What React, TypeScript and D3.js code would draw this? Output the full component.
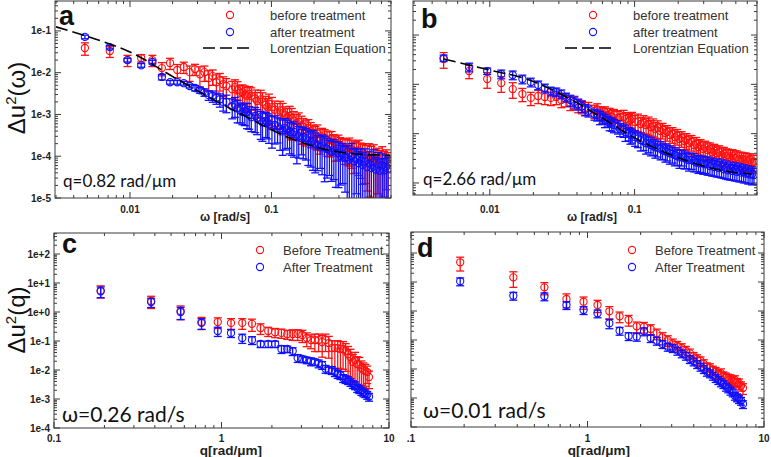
import React from "react";
import * as d3 from "d3";

// ---------- data ----------
// panels a, b : frequency grid (rad/s)
const omegaAB = [
  0.0048, 0.0072, 0.0096, 0.012, 0.0144, 0.0168, 0.0192, 0.0216, 0.024, 0.0264, 0.0288, 0.0312, 0.0336, 0.036, 0.0384, 0.0408, 0.0432, 0.0456, 0.048,
  0.0528, 0.0552, 0.0576, 0.06, 0.0624, 0.0648, 0.0672, 0.0696, 0.072,
  0.0768, 0.0792, 0.084, 0.0864, 0.0912, 0.0936, 0.096,
  0.1008, 0.1056, 0.1104, 0.1152, 0.12, 0.1248, 0.1296, 0.1344, 0.1392, 0.144,
  0.1512, 0.156, 0.1632, 0.168, 0.1752, 0.1824, 0.1896, 0.1968, 0.204, 0.2112,
  0.2208, 0.228, 0.2376, 0.2472, 0.2568, 0.2664, 0.276, 0.2856, 0.2976, 0.3072,
  0.3192, 0.3312, 0.3432, 0.3552, 0.3696, 0.384, 0.3984, 0.4128, 0.4272, 0.4416,
  0.4584, 0.4752, 0.492, 0.5088, 0.528, 0.5472, 0.5664, 0.5856, 0.6072, 0.6264, 0.648, 0.6672,
];

const beforeA = [
  0.039, 0.033, 0.020, 0.0225, 0.020, 0.0129, 0.017, 0.0116, 0.0137, 0.0103, 0.0122, 0.0092, 0.0103, 0.0074, 0.0083, 0.0059, 0.0066, 0.0053, 0.0048,
  0.0040, 0.0045, 0.0038, 0.0033, 0.0034, 0.0030, 0.0028, 0.0031, 0.0028,
  0.0024, 0.0021, 0.0023, 0.0020, 0.0017, 0.0015, 0.0018,
  0.0015, 0.0013, 0.00114, 0.00125, 0.00108, 0.00095, 0.00086, 0.00092, 0.00082, 0.00071,
  0.00062, 0.00066, 0.00055, 0.00050, 0.00044, 0.00047, 0.00040, 0.00036, 0.00033, 0.00035,
  0.00028, 0.00030, 0.00028, 0.00025, 0.00024, 0.00026, 0.00022, 0.00019, 0.00020, 0.00018,
  0.00017, 0.00016, 0.000155, 0.000165, 0.000147, 0.000128, 0.000131, 0.000138, 0.000118, 0.000106,
  0.000111, 0.000098, 0.000105, 0.000088, 0.000094, 0.000078, 0.000084, 0.000072, 0.000089, 0.000070, 0.000079, 0.000066,
];
const beforeAErr = [
  0.33, 0.3, 0.3, 0.2, 0.3, 0.35, 0.3, 0.35, 0.3, 0.4, 0.3, 0.5, 0.4, 0.5, 0.4, 0.5, 0.45, 0.5, 0.5,
  0.55, 0.5, 0.6, 0.5, 0.5, 0.6, 0.6, 0.5, 0.55,
  0.6, 0.6, 0.65, 0.65, 0.6, 0.6, 0.7,
  0.7, 0.6, 0.6, 0.65, 0.7, 0.6, 0.6, 0.7, 0.7, 0.65,
  0.6, 0.65, 0.65, 0.6, 0.6, 0.6, 0.6, 0.55, 0.55, 0.6,
  0.6, 0.55, 0.55, 0.6, 0.6, 0.5, 0.5, 0.6, 0.6, 0.55,
  0.55, 0.6, 0.6, 0.65, 0.65, 0.7, 0.7, 0.75, 0.75, 0.8,
  0.8, 0.85, 0.9, 0.95, 1.0, 0.9, 0.85, 0.9, 0.9, 0.85, 0.8, 0.85,
];
const afterA = [
  0.072, 0.041, 0.020, 0.015, 0.018, 0.0079, 0.0059, 0.0059, 0.0056, 0.0048, 0.0043, 0.0038, 0.0034, 0.0029, 0.0028, 0.0025, 0.0023, 0.0020, 0.0020,
  0.00157, 0.0017, 0.0014, 0.00125, 0.00114, 0.0012, 0.00114, 0.00098, 0.00086,
  0.00092, 0.00082, 0.00072, 0.00065, 0.00070, 0.00065, 0.00058,
  0.00052, 0.00056, 0.00052, 0.00046, 0.00042, 0.00047, 0.00044, 0.00038, 0.00035, 0.00038,
  0.00033, 0.00030, 0.00027, 0.00029, 0.00027, 0.00024, 0.00022, 0.00023, 0.00020, 0.00018,
  0.00017, 0.00018, 0.000163, 0.00015, 0.000138, 0.000125, 0.000138, 0.00012, 0.000118, 0.000102,
  0.000111, 0.000092, 0.000094, 0.000082, 0.0001, 0.000076, 0.000084, 0.000068, 0.000079, 0.000062,
  0.000075, 0.000055, 0.000067, 0.000052, 0.000071, 0.000048, 0.000063, 0.000045, 0.00006, 0.000046, 0.000057, 0.00005,
];
const afterAErr = [
  0.1, 0.1, 0.1, 0.1, 0.1, 0.15, 0.1, 0.1, 0.1, 0.1, 0.15, 0.15, 0.2, 0.25, 0.3, 0.3, 0.35, 0.4, 0.45,
  0.5, 0.5, 0.55, 0.5, 0.5, 0.55, 0.6, 0.55, 0.55,
  0.6, 0.6, 0.65, 0.65, 0.6, 0.6, 0.65,
  0.7, 0.65, 0.6, 0.7, 0.75, 0.7, 0.65, 0.7, 0.7, 0.75,
  0.8, 0.7, 0.6, 0.7, 0.7, 0.75, 0.75, 0.8, 0.8, 0.75,
  0.7, 0.8, 0.85, 0.8, 0.75, 0.8, 0.8, 0.85, 0.85, 0.8,
  0.8, 0.85, 0.9, 0.9, 1.0, 0.9, 0.85, 0.9, 0.9, 0.95,
  1.0, 0.95, 0.9, 1.0, 1.0, 0.95, 0.95, 0.9, 0.9, 0.9, 0.85, 0.9,
];
const lorentzOmegaA = [0.003, 0.00625, 0.01, 0.0204, 0.0372, 0.0677, 0.1216, 0.211, 0.36, 0.69];
const lorentzA = [0.125, 0.0575, 0.0313, 0.0078, 0.00246, 0.00085, 0.000316, 0.000163, 0.000117, 0.000105];

const beforeB = [
  0.0326, 0.0186, 0.0128, 0.0106, 0.0080, 0.00636, 0.0053, 0.0058, 0.00553, 0.0053, 0.00553, 0.0048, 0.0050, 0.0042, 0.0044, 0.0038, 0.0036, 0.0033, 0.0033,
  0.0029, 0.0031, 0.0027, 0.0025, 0.0027, 0.0024, 0.0025, 0.0022, 0.00238,
  0.0021, 0.00217, 0.0022, 0.00198, 0.0018, 0.00189, 0.0020,
  0.00172, 0.00178, 0.00157, 0.00165, 0.00149, 0.00155, 0.00136, 0.00142, 0.00124, 0.0013,
  0.00113, 0.0012, 0.00103, 0.00108, 0.00094, 0.00098, 0.00085, 0.0009, 0.00078, 0.00081,
  0.00071, 0.00074, 0.00064, 0.00068, 0.00059, 0.00062, 0.00053, 0.00056, 0.00049, 0.00052,
  0.000465, 0.00048, 0.00042, 0.00045, 0.0004, 0.00042, 0.00037, 0.00039, 0.00035, 0.00036,
  0.00033, 0.00035, 0.00032, 0.00033, 0.0003, 0.00031, 0.00029, 0.0003, 0.00028, 0.00029, 0.00026, 0.00027,
];
const beforeBErr = [
  0.35, 0.3, 0.35, 0.35, 0.35, 0.3, 0.3, 0.3, 0.3, 0.3, 0.3, 0.3, 0.3, 0.3, 0.3, 0.3, 0.3, 0.3, 0.3,
  0.3, 0.3, 0.3, 0.35, 0.3, 0.35, 0.3, 0.35, 0.3,
  0.35, 0.35, 0.35, 0.35, 0.35, 0.35, 0.35,
  0.35, 0.4, 0.35, 0.4, 0.35, 0.4, 0.35, 0.4, 0.35, 0.4,
  0.4, 0.35, 0.4, 0.35, 0.4, 0.35, 0.4, 0.35, 0.4, 0.35,
  0.4, 0.35, 0.4, 0.35, 0.4, 0.35, 0.4, 0.35, 0.4, 0.35,
  0.4, 0.35, 0.4, 0.35, 0.4, 0.35, 0.4, 0.35, 0.4, 0.35,
  0.4, 0.35, 0.4, 0.35, 0.4, 0.35, 0.4, 0.35, 0.4, 0.35, 0.4, 0.35,
];
const afterB = [
  0.0341, 0.0224, 0.0186, 0.0162, 0.0155, 0.0128, 0.0111, 0.0097, 0.0084, 0.0073, 0.0070, 0.0064, 0.0055, 0.0048, 0.0044, 0.0040, 0.0036, 0.0031, 0.0029,
  0.0025, 0.0024, 0.00217, 0.0021, 0.00189, 0.0018, 0.00164, 0.0016, 0.00149,
  0.0014, 0.00124, 0.0012, 0.00107, 0.00102, 0.00094, 0.00092,
  0.00085, 0.0008, 0.00074, 0.0007, 0.00064, 0.00063, 0.00059, 0.00056, 0.00053, 0.00052,
  0.00049, 0.00046, 0.00044, 0.00043, 0.0004, 0.00039, 0.00037, 0.00035, 0.00033, 0.00034,
  0.00032, 0.0003, 0.00029, 0.00029, 0.00028, 0.00026, 0.00026, 0.00025, 0.00025, 0.00024,
  0.00024, 0.00022, 0.00023, 0.00021, 0.00022, 0.0002, 0.00021, 0.00019, 0.0002, 0.00018,
  0.00019, 0.000175, 0.000183, 0.000168, 0.000175, 0.000162, 0.000167, 0.000155, 0.000159, 0.000148, 0.000152, 0.000145,
];
const afterBErr = [
  0.15, 0.2, 0.15, 0.2, 0.2, 0.2, 0.2, 0.2, 0.2, 0.2, 0.2, 0.2, 0.2, 0.25, 0.25, 0.25, 0.25, 0.25, 0.25,
  0.25, 0.25, 0.3, 0.25, 0.3, 0.25, 0.3, 0.3, 0.3,
  0.3, 0.3, 0.3, 0.35, 0.3, 0.35, 0.3,
  0.35, 0.35, 0.4, 0.35, 0.4, 0.35, 0.4, 0.35, 0.4, 0.35,
  0.4, 0.35, 0.4, 0.35, 0.4, 0.35, 0.4, 0.35, 0.4, 0.35,
  0.4, 0.35, 0.4, 0.35, 0.4, 0.35, 0.4, 0.35, 0.4, 0.35,
  0.4, 0.35, 0.4, 0.35, 0.4, 0.35, 0.4, 0.35, 0.4, 0.35,
  0.4, 0.35, 0.4, 0.35, 0.4, 0.35, 0.4, 0.35, 0.4, 0.35, 0.4, 0.35,
];
const lorentzOmegaB = [0.00482, 0.01, 0.018, 0.0318, 0.0556, 0.0953, 0.161, 0.272, 0.466, 0.641];
const lorentzB = [0.0326, 0.0195, 0.0128, 0.00607, 0.00238, 0.00089, 0.00042, 0.00024, 0.000167, 0.000152];

// panels c, d : wave-number grid (rad/um)
const qCD = [0.19, 0.38, 0.57, 0.76, 0.95, 1.14, 1.33, 1.52, 1.71, 1.9, 2.09, 2.28, 2.47, 2.66, 2.85, 3.04, 3.23, 3.42, 3.61, 3.8, 3.99, 4.18, 4.37, 4.56, 4.75, 4.94, 5.13, 5.32, 5.51, 5.7, 5.89, 6.08, 6.27, 6.46, 6.65, 6.84, 7.03, 7.22, 7.41, 7.6];

const beforeC = [5.5, 2.4, 1.08, 0.45, 0.45, 0.42, 0.42, 0.39, 0.28, 0.22, 0.2, 0.19, 0.174, 0.174, 0.174, 0.161, 0.127, 0.108, 0.108, 0.108, 0.092, 0.108, 0.085, 0.057, 0.057, 0.057, 0.053, 0.053, 0.045, 0.035, 0.028, 0.019, 0.022, 0.016, 0.015, 0.0117, 0.01, 0.0092, 0.0085, 0.0057];
const beforeCErr = [0.45, 0.45, 0.5, 0.45, 0.4, 0.4, 0.4, 0.45, 0.4, 0.35, 0.35, 0.35, 0.35, 0.4, 0.4, 0.45, 0.5, 0.5, 0.6, 0.6, 0.7, 0.6, 0.7, 0.8, 0.8, 0.8, 0.8, 0.8, 0.8, 0.85, 0.85, 0.8, 0.85, 0.8, 0.8, 0.75, 0.75, 0.7, 0.6, 0.6];
const afterC = [5.2, 2.2, 1.0, 0.42, 0.221, 0.189, 0.127, 0.108, 0.079, 0.079, 0.079, 0.053, 0.053, 0.045, 0.026, 0.024, 0.022, 0.02, 0.019, 0.017, 0.015, 0.011, 0.01, 0.01, 0.0085, 0.0073, 0.0067, 0.0053, 0.0049, 0.0045, 0.0039, 0.0033, 0.003, 0.0024, 0.0022, 0.0019, 0.0017, 0.0016, 0.0014, 0.0012];
const afterCErr = [0.4, 0.35, 0.45, 0.4, 0.35, 0.3, 0.35, 0.3, 0.25, 0.25, 0.25, 0.3, 0.25, 0.3, 0.3, 0.25, 0.25, 0.3, 0.25, 0.3, 0.3, 0.3, 0.25, 0.3, 0.3, 0.3, 0.3, 0.3, 0.3, 0.3, 0.3, 0.3, 0.3, 0.3, 0.3, 0.3, 0.3, 0.3, 0.3, 0.3];

const beforeD = [47.8, 14.5, 6.56, 2.59, 2.09, 1.61, 0.977, 0.657, 0.501, 0.297, 0.288, 0.24, 0.17, 0.124, 0.1, 0.0769, 0.0636, 0.053, 0.0428, 0.0348, 0.0274, 0.0221, 0.0193, 0.0149, 0.012, 0.0108, 0.00924, 0.00807, 0.00672, 0.0072, 0.00588, 0.00518, 0.0049, 0.00452, 0.00395, 0.00418, 0.00348, 0.00321, 0.00266, 0.00221];
const beforeDErr = [0.5, 0.55, 0.45, 0.5, 0.45, 0.45, 0.45, 0.4, 0.4, 0.4, 0.4, 0.4, 0.4, 0.45, 0.4, 0.4, 0.4, 0.4, 0.4, 0.4, 0.35, 0.4, 0.35, 0.4, 0.35, 0.4, 0.35, 0.4, 0.35, 0.4, 0.35, 0.4, 0.35, 0.4, 0.35, 0.4, 0.35, 0.4, 0.35, 0.4];
const afterD = [10.6, 3.37, 3.22, 1.61, 1.08, 0.833, 0.377, 0.209, 0.137, 0.13, 0.2, 0.117, 0.0946, 0.0728, 0.0587, 0.053, 0.0428, 0.0348, 0.0288, 0.0221, 0.0184, 0.0149, 0.012, 0.01, 0.00807, 0.00711, 0.00588, 0.0049, 0.00418, 0.00348, 0.00304, 0.00246, 0.00216, 0.00179, 0.00157, 0.0012, 0.00106, 0.000924, 0.000807, 0.000621];
const afterDErr = [0.3, 0.3, 0.3, 0.3, 0.3, 0.3, 0.35, 0.3, 0.3, 0.3, 0.3, 0.3, 0.3, 0.3, 0.3, 0.3, 0.3, 0.3, 0.3, 0.3, 0.3, 0.3, 0.3, 0.3, 0.3, 0.3, 0.3, 0.3, 0.3, 0.3, 0.3, 0.3, 0.3, 0.3, 0.3, 0.3, 0.3, 0.3, 0.3, 0.3];

// ticks and labels
const omegaTicks = [0.01, 0.1];
const omegaTickLabels = ["0.01", "0.1"];
const yTicksA = [1e-1, 1e-2, 1e-3, 1e-4, 1e-5];
const yTickLabelsA = ["1e-1", "1e-2", "1e-3", "1e-4", "1e-5"];
const yTicksB = [1e-1, 1e-2, 1e-3, 1e-4];
const qTicks = [0.1, 1, 10];
const qTickLabelsC = ["0.1", "1", "10"];
const qTickLabelsD = [".1", "1", "10"];
const yTicksC = [1e2, 1e1, 1e0, 1e-1, 1e-2, 1e-3, 1e-4];
const yTickLabelsC = ["1e+2", "1e+1", "1e+0", "1e-1", "1e-2", "1e-3", "1e-4"];
const legendAB = ["before treatment", "after treatment", "Lorentzian Equation"];
const legendCD = ["Before Treatment", "After Treatment"];
const notes = ["q=0.82 rad/\u03bcm", "q=2.66 rad/\u03bcm", "\u03c9=0.26 rad/s", "\u03c9=0.01 rad/s"];

// ---------- drawing ----------
const SANS = '"Liberation Sans", Arial, Helvetica, sans-serif';
const RED = "#ff1010";
const BLUE = "#1010ff";

type Series = { y: number[]; err: number[]; color: string };
type PanelProps = {
  id: string;
  l: number; r: number; t: number; b: number;
  xDomain: [number, number]; yDomain: [number, number];
  x: number[];
  series: Series[];
  xTicks: number[]; xLabels: string[]; xLabelY: number;
  yTicks: number[]; yLabels: string[] | null;
  line?: { x: number[]; y: number[] };
};

function Panel(p: PanelProps) {
  const xs = d3.scaleLog().domain(p.xDomain).range([p.l, p.r]);
  const ys = d3.scaleLog().domain(p.yDomain).range([p.b, p.t]);
  const isMajor = (v: number) => Math.abs(Math.log10(v) - Math.round(Math.log10(v))) < 1e-6;
  const xt = xs.ticks();
  const yt = ys.ticks();
  const cap = 4;
  const lineGen = d3
    .line<[number, number]>()
    .x((d) => xs(d[0]))
    .y((d) => ys(d[1]))
    .curve(d3.curveMonotoneX);
  const frame = "#3a3a3a";
  return (
    <g>
      <defs>
        <clipPath id={"clip-" + p.id}>
          <rect x={p.l} y={p.t} width={p.r - p.l} height={p.b - p.t} />
        </clipPath>
      </defs>
      <g clipPath={`url(#clip-${p.id})`}>
        {p.series.map((s, si) => (
          <g key={si} stroke={s.color} fill="none">
            {s.y.map((v, i) => {
              const cx = xs(p.x[i]);
              const cy = ys(v);
              const up = v * (1 + s.err[i]);
              const lo = v * (1 - s.err[i]);
              const clamped = lo <= p.yDomain[0];
              const yUp = ys(up);
              const yLo = clamped ? p.b + 2 : ys(lo);
              return (
                <g key={i}>
                  <line x1={cx} x2={cx} y1={yUp} y2={yLo} strokeWidth={1.3} />
                  <line x1={cx - cap} x2={cx + cap} y1={yUp} y2={yUp} strokeWidth={1.3} />
                  {!clamped && <line x1={cx - cap} x2={cx + cap} y1={yLo} y2={yLo} strokeWidth={1.3} />}
                  <circle cx={cx} cy={cy} r={3.6} strokeWidth={1.1} />
                </g>
              );
            })}
          </g>
        ))}
        {p.line && (
          <path
            d={lineGen(p.line.x.map((w, i) => [w, p.line!.y[i]] as [number, number])) || ""}
            fill="none"
            stroke="#000"
            strokeWidth={1.6}
            strokeDasharray="12,5"
          />
        )}
      </g>
      <rect x={p.l} y={p.t} width={p.r - p.l} height={p.b - p.t} fill="none" stroke={frame} strokeWidth={1} />
      {xt.map((v, i) => {
        const x = xs(v);
        const len = isMajor(v) ? 6 : 3;
        return (
          <g key={"xt" + i} stroke={frame} strokeWidth={1}>
            <line x1={x} x2={x} y1={p.b} y2={p.b - len} />
            <line x1={x} x2={x} y1={p.t} y2={p.t + len} />
          </g>
        );
      })}
      {yt.map((v, i) => {
        const y = ys(v);
        const len = isMajor(v) ? 6 : 3;
        return (
          <g key={"yt" + i} stroke={frame} strokeWidth={1}>
            <line x1={p.l} x2={p.l + len} y1={y} y2={y} />
            <line x1={p.r} x2={p.r - len} y1={y} y2={y} />
          </g>
        );
      })}
      {p.xTicks.map((v, i) => (
        <text key={"xl" + i} x={xs(v)} y={p.xLabelY} textAnchor="middle" fontFamily={SANS} fontWeight="bold" fontSize={10} fill="#222">
          {p.xLabels[i]}
        </text>
      ))}
      {p.yLabels &&
        p.yTicks.map((v, i) => (
          <text key={"yl" + i} x={p.l - 4} y={ys(v) + 3.5} textAnchor="end" fontFamily={SANS} fontWeight="bold" fontSize={10} fill="#222">
            {p.yLabels![i]}
          </text>
        ))}
    </g>
  );
}

function Legend({ x, y, cx, labels, dash }: { x: number; y: number; cx: number; labels: string[]; dash?: [number, number] }) {
  return (
    <g fontFamily={SANS} fontSize={13} fill="#333">
      <circle cx={cx} cy={y} r={3.6} fill="none" stroke={RED} strokeWidth={1.1} />
      <text x={x} y={y + 4.5}>{labels[0]}</text>
      <circle cx={cx} cy={y + 17} r={3.6} fill="none" stroke={BLUE} strokeWidth={1.1} />
      <text x={x} y={y + 21.5}>{labels[1]}</text>
      {dash && (
        <>
          <line x1={dash[0]} x2={dash[1]} y1={y + 33} y2={y + 33} stroke="#000" strokeWidth={1.6} strokeDasharray="12,5" />
          <text x={x} y={y + 37.5}>{labels[2]}</text>
        </>
      )}
    </g>
  );
}

export default function App() {
  return (
    <div style={{ position: "fixed", left: 0, top: 0, background: "#fff" }}>
      <svg width={771} height={457} viewBox="0 0 771 457" style={{ display: "block", background: "#fff" }}>
        <Panel
          id="a" l={55} r={391} t={1} b={198}
          xDomain={[0.00295, 0.7]} yDomain={[1e-5, 0.52]}
          x={omegaAB}
          series={[
            { y: beforeA, err: beforeAErr, color: RED },
            { y: afterA, err: afterAErr, color: BLUE },
          ]}
          xTicks={omegaTicks} xLabels={omegaTickLabels} xLabelY={213}
          yTicks={yTicksA} yLabels={yTickLabelsA}
          line={{ x: lorentzOmegaA, y: lorentzA }}
        />
        <Panel
          id="b" l={413} r={757} t={1} b={195}
          xDomain={[0.00295, 0.7]} yDomain={[5.7e-5, 0.49]}
          x={omegaAB}
          series={[
            { y: beforeB, err: beforeBErr, color: RED },
            { y: afterB, err: afterBErr, color: BLUE },
          ]}
          xTicks={omegaTicks} xLabels={omegaTickLabels} xLabelY={213}
          yTicks={yTicksB} yLabels={null}
          line={{ x: lorentzOmegaB, y: lorentzB }}
        />
        <Panel
          id="c" l={54} r={389} t={233} b={428}
          xDomain={[0.1, 10]} yDomain={[1e-4, 530]}
          x={qCD}
          series={[
            { y: beforeC, err: beforeCErr, color: RED },
            { y: afterC, err: afterCErr, color: BLUE },
          ]}
          xTicks={qTicks} xLabels={qTickLabelsC} xLabelY={441.5}
          yTicks={yTicksC} yLabels={yTickLabelsC}
        />
        <Panel
          id="d" l={411} r={764} t={232} b={427}
          xDomain={[0.1, 10]} yDomain={[1e-4, 530]}
          x={qCD}
          series={[
            { y: beforeD, err: beforeDErr, color: RED },
            { y: afterD, err: afterDErr, color: BLUE },
          ]}
          xTicks={qTicks} xLabels={qTickLabelsD} xLabelY={441.5}
          yTicks={yTicksC} yLabels={null}
        />

        <Legend x={270} y={15} cx={230} labels={legendAB} dash={[203, 250]} />
        <Legend x={633} y={15} cx={593} labels={legendAB} dash={[565, 612]} />
        <Legend x={283} y={250} cx={260} labels={legendCD} />
        <Legend x={655} y={250} cx={632} labels={legendCD} />

        <g fontFamily={SANS} fontWeight="bold" fontSize={27} fill="#111">
          <text x={59} y={25}>a</text>
          <text x={421} y={28}>b</text>
          <text x={62} y={253}>c</text>
          <text x={417} y={257}>d</text>
        </g>

        <g fontFamily="Lato, 'Open Sans', sans-serif" fill="#111">
          <text x={63} y={187} fontSize={17}>{notes[0]}</text>
          <text x={423} y={185} fontSize={17}>{notes[1]}</text>
          <text x={62} y={422} fontSize={21}>{notes[2]}</text>
          <text x={423} y={418} fontSize={21}>{notes[3]}</text>
        </g>

        <g fontFamily={SANS} fontWeight="bold" fill="#222">
          <text x={225} y={221} fontSize={12} textAnchor="middle">{"\u03c9 [rad/s]"}</text>
          <text x={592} y={221} fontSize={12} textAnchor="middle">{"\u03c9 [rad/s]"}</text>
          <text x={231} y={455} fontSize={13.5} textAnchor="middle">{"q[rad/\u03bcm]"}</text>
          <text x={599} y={455} fontSize={13.5} textAnchor="middle">{"q[rad/\u03bcm]"}</text>
        </g>
        <g fontFamily={SANS} fontSize={24} fill="#111">
          <text transform="translate(25,98) rotate(-90)" textAnchor="middle">
            {"\u0394u"}
            <tspan fontSize={15} dy={-9}>2</tspan>
            <tspan dy={9}>{"(\u03c9)"}</tspan>
          </text>
          <text transform="translate(25,320) rotate(-90)" textAnchor="middle">
            {"\u0394u"}
            <tspan fontSize={15} dy={-9}>2</tspan>
            <tspan dy={9}>(q)</tspan>
          </text>
        </g>
      </svg>
    </div>
  );
}
